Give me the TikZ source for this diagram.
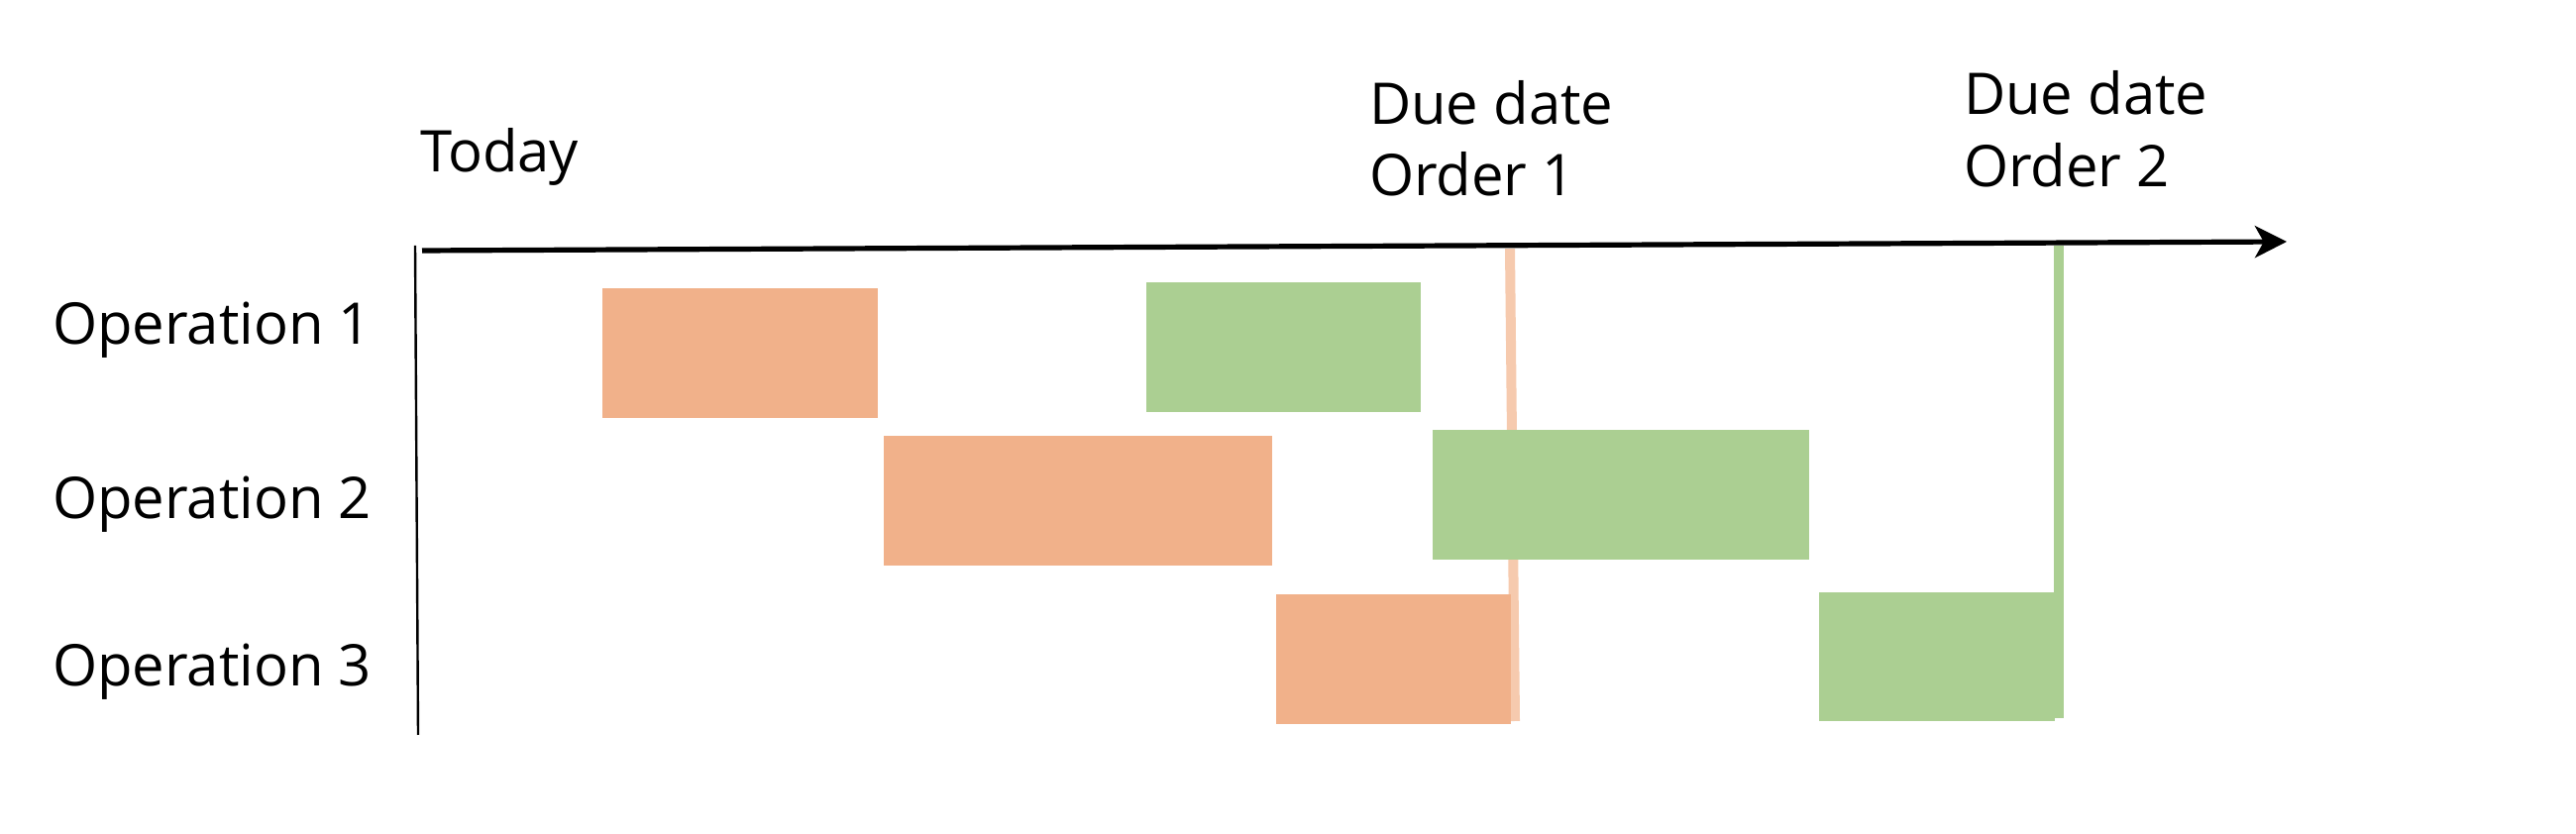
\documentclass[tikz,border=0pt]{standalone}
\usepackage{fontspec}
\setmainfont{Open Sans}
\usetikzlibrary{arrows.meta}
\definecolor{barorange}{HTML}{F1B18A}
\definecolor{lineorange}{HTML}{F6CAAE}
\definecolor{bargreen}{HTML}{ABCF92}
\tikzset{
  lbl/.style={anchor=base west, inner sep=0pt, outer sep=0pt, font=\fontsize{14.5}{17.5}\selectfont},
  obar/.style={fill=barorange},
  gbar/.style={fill=bargreen},
  axisline/.style={line width=1.3pt, -{Stealth[length=8pt, width=8pt, inset=2.2pt]}},
  vaxis/.style={line width=0.6pt},
  dueo/.style={draw=lineorange, line width=2.5pt},
  dueg/.style={draw=bargreen, line width=2.5pt}
}
\begin{document}
\begin{tikzpicture}[x=0.25pt,y=-0.25pt]
\useasboundingbox (0,0) rectangle (2600,842);
% labels
\node[lbl] (today) at (424,174) {Today};
\node[lbl] (op1) at (53,348) {Operation 1};
\node[lbl] (op2) at (53,524) {Operation 2};
\node[lbl] (op3) at (53,693) {Operation 3};
\node[lbl] (due1a) at (1382,126) {Due date};
\node[lbl] (due1b) at (1382,198) {Order 1};
\node[lbl] (due2a) at (1982,116) {Due date};
\node[lbl] (due2b) at (1982,189) {Order 2};
% due date lines
\coordinate (d1top) at (1524,251);
\coordinate (d1bot) at (1529,728);
\coordinate (d2top) at (2078,248);
\coordinate (d2bot) at (2078,725);
\draw[dueo] (d1top) -- (d1bot);
\draw[dueg] (d2top) -- (d2bot);
% bars
\path[obar] (608,291) rectangle (886,422);
\path[obar] (892,440) rectangle (1284,571);
\path[obar] (1288,600) rectangle (1525,731);
\path[gbar] (1157,285) rectangle (1434,416);
\path[gbar] (1446,434) rectangle (1826,565);
\path[gbar] (1836,598) rectangle (2074,728);
% axes
\coordinate (vtop) at (419,248);
\coordinate (vbot) at (422,742);
\draw[vaxis] (vtop) -- (vbot);
\coordinate (axstart) at (426,253);
\coordinate (axend) at (2308,244);
\draw[axisline] (axstart) -- (axend);
\end{tikzpicture}
\end{document}
